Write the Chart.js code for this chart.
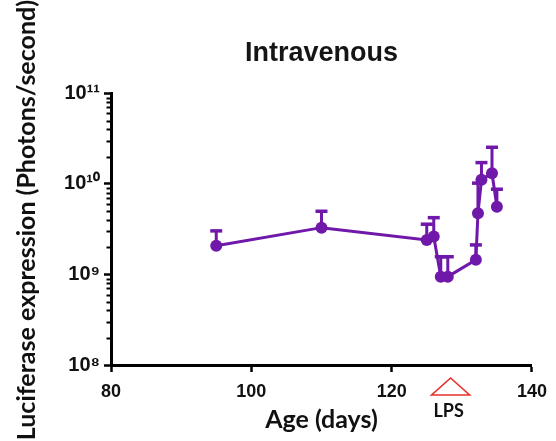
<!DOCTYPE html>
<html><head><meta charset="utf-8">
<script src="https://cdn.jsdelivr.net/npm/chart.js@4.4.1/dist/chart.umd.min.js"></script>
<style>html,body{margin:0;padding:0;background:#fff}#wrap{width:556px;height:441px;position:relative}</style>
</head><body><div id="wrap"><canvas id="c"></canvas></div>
<script>
// ---- data ----
const days = [95, 110, 125, 126, 127, 128, 132, 132.3, 132.8, 134.3, 135];
const expression = [2.08e9, 3.29e9, 2.40e9, 2.62e9, 9.46e8, 9.46e8, 1.45e9, 4.74e9, 1.11e10, 1.31e10, 5.61e9];
const upperError = [3.03e9, 4.99e9, 3.59e9, 4.24e9, 1.57e9, 1.57e9, 2.12e9, 1.02e10, 1.72e10, 2.54e10, 8.74e9];
const xTicks = [80, 100, 120, 140];
const yMajorTicks = [1e8, 1e9, 1e10, 1e11];
const yTickLabels = ['10\u2078', '10\u2079', '10\u00B9\u2070', '10\u00B9\u00B9'];
const lpsDay = 128.4;
const lpsLabel = 'LPS';

const yMinorTicks = [];
for (let d = 0; d < yMajorTicks.length - 1; d++) {
  for (let m = 2; m <= 9; m++) yMinorTicks.push(m * yMajorTicks[d]);
}

const PURPLE = '#6F18A9';

const errorBars = {
  id: 'errorBars',
  beforeDatasetsDraw(chart) {
    const {ctx, scales: {x, y}} = chart;
    ctx.save();
    ctx.strokeStyle = PURPLE;
    ctx.lineCap = 'butt';
    days.forEach((d, i) => {
      const px = x.getPixelForValue(d);
      const y0 = y.getPixelForValue(expression[i]);
      const y1 = y.getPixelForValue(upperError[i]);
      ctx.lineWidth = 3;
      ctx.beginPath(); ctx.moveTo(px, y0); ctx.lineTo(px, y1); ctx.stroke();
      ctx.lineWidth = 3.5;
      ctx.beginPath(); ctx.moveTo(px - 6, y1); ctx.lineTo(px + 6, y1); ctx.stroke();
    });
    ctx.restore();
  }
};

const extras = {
  id: 'extras',
  afterDraw(chart) {
    const {ctx, scales: {x, y}, chartArea} = chart;
    ctx.save();
    // minor log ticks
    ctx.strokeStyle = '#000';
    ctx.lineWidth = 2;
    yMinorTicks.forEach(v => {
      const py = Math.round(y.getPixelForValue(v)) + 0.5;
      ctx.beginPath(); ctx.moveTo(chartArea.left - 4.5, py); ctx.lineTo(chartArea.left, py); ctx.stroke();
    });
    // LPS marker
    const lx = x.getPixelForValue(lpsDay);
    const top = chartArea.bottom + 13;
    ctx.strokeStyle = '#E8302A';
    ctx.lineWidth = 1.6;
    ctx.beginPath();
    ctx.moveTo(lx, top); ctx.lineTo(lx + 19, top + 17); ctx.lineTo(lx - 19, top + 17); ctx.closePath();
    ctx.stroke();
    ctx.fillStyle = '#111';
    ctx.font = 'bold 18px Lato, "Open Sans", sans-serif';
    ctx.textAlign = 'center';
    ctx.textBaseline = 'middle';
    ctx.fillText(lpsLabel, lx - 2, chartArea.bottom + 46);
    ctx.restore();
  }
};

new Chart(document.getElementById('c'), {
  type: 'line',
  data: {
    datasets: [{
      data: days.map((d, i) => ({x: d, y: expression[i]})),
      borderColor: PURPLE,
      backgroundColor: PURPLE,
      borderWidth: 3,
      pointRadius: 6,
      pointBackgroundColor: PURPLE,
      pointBorderWidth: 0,
      tension: 0,
      clip: false
    }]
  },
  options: {
    responsive: true,
    maintainAspectRatio: false,
    animation: false,
    layout: {padding: {left: 0, right: 19, top: 0, bottom: 0}},
    plugins: {
      legend: {display: false},
      tooltip: {enabled: false},
      title: {
        display: true,
        text: 'Intravenous',
        fullSize: false,
        color: '#151515',
        font: {family: '"Liberation Sans", Arial, sans-serif', size: 27, weight: 'bold'},
        padding: {top: 37, bottom: 24}
      }
    },
    scales: {
      x: {
        type: 'linear',
        min: 80, max: 140,
        afterBuildTicks: s => { s.ticks = xTicks.map(v => ({value: v})); },
        afterFit: s => { s.height = 76; },
        border: {display: true, color: '#000', width: 3},
        grid: {display: true, drawOnChartArea: false, drawTicks: true, tickLength: 7, tickWidth: 2.5, tickColor: '#000'},
        ticks: {
          color: '#111', padding: 9,
          font: {family: '"Liberation Sans", Arial, sans-serif', size: 18, weight: 'bold'},
          callback: v => String(v)
        },
        title: {
          display: true, text: 'Age (days)', color: '#111',
          font: {family: 'Lato, "Open Sans", sans-serif', size: 25, weight: 'bold'},
          padding: {top: 0, bottom: 6}
        }
      },
      y: {
        type: 'logarithmic',
        min: 1e8, max: 1e11,
        afterBuildTicks: s => { s.ticks = yMajorTicks.map(v => ({value: v, major: true})); },
        afterFit: s => { s.width = 111; },
        border: {display: true, color: '#000', width: 3},
        grid: {display: true, drawOnChartArea: false, drawTicks: true, tickLength: 7, tickWidth: 2.5, tickColor: '#000'},
        ticks: {
          color: '#111', padding: 4,
          font: {family: '"Liberation Sans", Arial, sans-serif', size: 20, weight: 'bold'},
          callback: (v, i) => yTickLabels[i]
        },
        title: {
          display: true, text: '   Luciferase expression (Photons/second)', color: '#111',
          font: {family: 'Lato, "Open Sans", sans-serif', size: 25, weight: 'bold'},
          padding: {top: 12, bottom: 0}
        }
      }
    }
  },
  plugins: [errorBars, extras]
});
</script>
</body></html>
